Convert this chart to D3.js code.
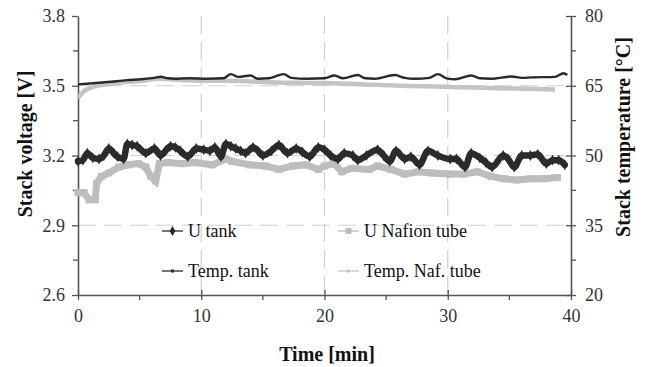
<!DOCTYPE html>
<html>
<head>
<meta charset="utf-8">
<script src="https://cdn.jsdelivr.net/npm/d3@7"></script>
<style>
  html, body { margin: 0; padding: 0; background: #fff; }
  svg { display: block; }
  text { font-family: "Liberation Serif", "Times New Roman", serif; }
</style>
</head>
<body>
<svg id="chart" width="649" height="367"></svg>
<script>
// Stack voltage (V) and stack temperature (°C) over time (min)
const uTankTime = [0, 0.4, 0.76, 1.2, 1.7, 2.1, 2.5, 2.9, 3.2, 3.7, 4.0, 4.4, 4.8, 5.5, 6.2, 6.7, 7.1, 7.5, 7.9, 8.3, 8.9, 9.6,
  10.2, 10.7, 11.1, 11.6, 12.0, 12.4, 12.8, 13.2, 13.6, 14.2, 14.6, 15.0, 15.7, 16.3, 16.6, 17.0, 17.7, 18.2, 18.8, 19.5,
  20.0, 20.5, 21.1, 21.6, 22.3, 22.7, 23.4, 24.3, 24.8, 25.3, 25.8, 26.5, 27.0, 27.7, 28.4, 29.2,
  30.2, 30.7, 31.4, 31.9, 32.6, 33.1, 33.6, 34.5, 34.9, 35.4, 36.0, 36.7, 37.3, 38.0, 38.5, 39.0, 39.5];
const uTankVolt = [3.175, 3.18, 3.21, 3.19, 3.185, 3.2, 3.23, 3.21, 3.195, 3.185, 3.25, 3.245, 3.24, 3.21, 3.23, 3.20, 3.22, 3.24, 3.235, 3.22, 3.195, 3.23,
  3.225, 3.22, 3.235, 3.195, 3.25, 3.24, 3.23, 3.22, 3.21, 3.235, 3.22, 3.20, 3.22, 3.245, 3.23, 3.21, 3.23, 3.215, 3.195, 3.235,
  3.225, 3.20, 3.185, 3.21, 3.20, 3.18, 3.20, 3.225, 3.20, 3.175, 3.22, 3.185, 3.195, 3.16, 3.22, 3.20,
  3.185, 3.185, 3.15, 3.21, 3.19, 3.17, 3.15, 3.20, 3.185, 3.15, 3.20, 3.20, 3.205, 3.165, 3.18, 3.18, 3.16];

const uNafTime = [0, 0.5, 0.9, 1.4, 1.5, 1.9, 2.5, 3.3, 4.1, 4.9, 5.5, 5.9, 6.3, 6.6, 7.3, 8.4, 9.5,
  10.9, 12.0, 12.5, 13.9, 15.2, 16.3, 17.4, 18.5, 19.5, 20.0, 20.8, 21.4, 22.2, 23.6, 24.3, 25.4, 26.5, 27.6, 28.7,
  30.1, 31.3, 32.4, 33.5, 34.5, 35.6, 36.7, 37.8, 38.9];
const uNafVolt = [3.04, 3.04, 3.01, 3.01, 3.08, 3.11, 3.125, 3.15, 3.16, 3.165, 3.15, 3.11, 3.09, 3.165, 3.17, 3.165, 3.17,
  3.16, 3.185, 3.175, 3.16, 3.155, 3.14, 3.155, 3.16, 3.14, 3.155, 3.165, 3.13, 3.145, 3.14, 3.155, 3.14, 3.12, 3.13, 3.125,
  3.12, 3.12, 3.13, 3.11, 3.10, 3.095, 3.10, 3.10, 3.105];

const tTankTime = [0, 1, 2.4, 4, 5.1, 6.2, 6.7, 7.3, 7.8, 9, 10.5, 11.8, 12.4, 13, 14, 14.6, 15.5, 16.7, 17.3, 18.6,
  20, 20.8, 21.5, 22.7, 23.3, 24.1, 25.7, 26.5, 27.3, 28.5, 29.2, 29.9, 30.6, 31.9, 32.6, 33.5, 35.2, 36.0, 36.8, 38.7, 39.4, 39.7];
const tTankTemp = [65.3, 65.5, 65.8, 66.2, 66.4, 66.7, 66.95, 66.6, 66.5, 66.6, 66.5, 66.6, 67.5, 66.9, 67.2, 66.5, 66.6, 67.5, 66.7, 66.5,
  66.6, 67.2, 66.6, 67.3, 66.6, 66.5, 67.3, 66.7, 66.5, 66.7, 67.5, 66.6, 66.4, 67.2, 66.6, 66.5, 67.0, 66.7, 66.8, 66.9, 67.7, 67.3];

const tNafTime = [0, 0.2, 0.5, 0.9, 1.3, 2.4, 3.5, 5.1, 6.5, 7.8, 10, 13.2, 16.0, 18.5, 21.4, 24, 26.8, 29.5, 32.2, 35.5, 38.7];
const tNafTemp = [62.4, 63.0, 63.9, 64.4, 64.8, 65.3, 65.7, 66.0, 66.5, 66.3, 66.1, 66.0, 65.7, 65.6, 65.5, 65.2, 64.95, 64.8, 64.6, 64.4, 64.2];

const xTicks = [0, 10, 20, 30, 40];
const voltTicks = [2.6, 2.9, 3.2, 3.5, 3.8];
const tempTicks = [20, 35, 50, 65, 80];
const legendLabels = ["U tank", "U Nafion tube", "Temp. tank", "Temp. Naf. tube"];

const svg = d3.select("#chart");
const pL = 78, pR = 571, pT = 16, pB = 295;
const axisColor = "#555";
const serif = "'Liberation Serif', 'Times New Roman', serif";

const x = d3.scaleLinear().domain([0, 40]).range([pL, pR]);
const yV = d3.scaleLinear().domain([2.6, 3.8]).range([pB, pT]);
const yT = d3.scaleLinear().domain([20, 80]).range([pB, pT]);

// dashed grid
const grid = svg.append("g").attr("stroke", "#cfcfcf").attr("stroke-width", 1.2).attr("stroke-dasharray", "18,8");
grid.selectAll("line.v").data(xTicks.slice(1, -1)).join("line")
  .attr("x1", d => x(d)).attr("x2", d => x(d)).attr("y1", pT).attr("y2", pB);
grid.selectAll("line.h").data(voltTicks.slice(1, -1)).join("line")
  .attr("x1", pL).attr("x2", pR).attr("y1", d => yV(d)).attr("y2", d => yV(d));

// axes
function styleAxis(g) {
  g.attr("font-family", serif).attr("font-size", 18);
  g.selectAll(".domain").attr("stroke", axisColor).attr("stroke-width", 1.6);
  g.selectAll(".tick line").attr("stroke", axisColor).attr("stroke-width", 1.3);
  g.selectAll(".tick text").attr("fill", "#333");
}
function minorTicks(g, values, scale, orient, len) {
  g.selectAll(null).data(values).join("line")
    .attr("stroke", axisColor).attr("stroke-width", 1.3)
    .each(function (d) {
      const s = d3.select(this);
      if (orient === "left") s.attr("x1", pL).attr("x2", pL - len).attr("y1", scale(d)).attr("y2", scale(d));
      if (orient === "right") s.attr("x1", pR).attr("x2", pR + len).attr("y1", scale(d)).attr("y2", scale(d));
      if (orient === "bottom") s.attr("y1", pB).attr("y2", pB + len).attr("x1", scale(d)).attr("x2", scale(d));
    });
}

const gx = svg.append("g").attr("transform", `translate(0,${pB})`)
  .call(d3.axisBottom(x).tickValues(xTicks).tickSizeInner(5).tickSizeOuter(0).tickPadding(9));
gx.selectAll(".tick line").attr("y1", -5);
styleAxis(gx);

const gl = svg.append("g").attr("transform", `translate(${pL},0)`)
  .call(d3.axisLeft(yV).tickValues(voltTicks).tickFormat(d3.format(".1f")).tickSizeInner(6).tickSizeOuter(0).tickPadding(7));
gl.selectAll(".tick line").attr("x1", 0);
styleAxis(gl);

const gr = svg.append("g").attr("transform", `translate(${pR},0)`)
  .call(d3.axisRight(yT).tickValues(tempTicks).tickSizeInner(5).tickSizeOuter(0).tickPadding(9));
gr.selectAll(".tick line").attr("x1", -5);
styleAxis(gr);

const minor = svg.append("g");
minorTicks(minor, [5, 15, 25, 35], x, "bottom", 5);
minorTicks(minor, [2.75, 3.05, 3.35, 3.65], yV, "left", 5);
minorTicks(minor, [27.5, 42.5, 57.5, 72.5], yT, "right", 5);

// axis titles
function title(sel, txt) {
  return sel.attr("text-anchor", "middle").attr("font-family", serif)
    .attr("font-size", 20).attr("font-weight", "bold").attr("fill", "#111").text(txt);
}
title(svg.append("text").attr("transform", "translate(25,144) rotate(-90)").attr("dominant-baseline", "central"), "Stack voltage [V]");
title(svg.append("text").attr("transform", "translate(623,137) rotate(-90)").attr("dominant-baseline", "central"), "Stack temperature [°C]");
title(svg.append("text").attr("x", 327).attr("y", 361), "Time [min]");

// series
const plot = svg.append("g");
const zip = (ts, vs) => ts.map((t, i) => [t, vs[i]]);
const lineV = d3.line().x(d => x(d[0])).y(d => yV(d[1]));
const lineT = d3.line().x(d => x(d[0])).y(d => yT(d[1])).curve(d3.curveMonotoneX);

const naf = zip(uNafTime, uNafVolt);
const tank = zip(uTankTime, uTankVolt);
const tTank = zip(tTankTime, tTankTemp);
const tNaf = zip(tNafTime, tNafTemp);

// temperature of Nafion tube run (light thick line)
plot.append("path").datum(tNaf).attr("d", lineT)
  .attr("fill", "none").attr("stroke", "#c4c4c4").attr("stroke-width", 4.5);

// U Nafion tube: grey squares
plot.append("path").datum(naf).attr("d", lineV)
  .attr("fill", "none").attr("stroke", "#bdbdbd").attr("stroke-width", 7).attr("stroke-linejoin", "miter");
plot.selectAll("rect.naf").data(naf).join("rect")
  .attr("x", d => x(d[0]) - 3.5).attr("y", d => yV(d[1]) - 3.5).attr("width", 7).attr("height", 7).attr("fill", "#bdbdbd");

// temperature of tank run (thin dark line)
plot.append("path").datum(tTank).attr("d", lineT)
  .attr("fill", "none").attr("stroke", "#2a2a2a").attr("stroke-width", 2.4);

// U tank: dark diamonds
plot.append("path").datum(tank).attr("d", lineV.curve(d3.curveMonotoneX))
  .attr("fill", "none").attr("stroke", "#2b2b2b").attr("stroke-width", 6.5).attr("stroke-linejoin", "round").attr("stroke-linecap", "round");
const diamond = d3.symbol().type(d3.symbolDiamond).size(34);
plot.selectAll("path.tank").data(tank).join("path")
  .attr("transform", d => `translate(${x(d[0])},${yV(d[1])})`).attr("d", diamond).attr("fill", "#2b2b2b");

// legend
const legend = svg.append("g");
const legendItems = [
  { label: legendLabels[0], x: 162, y: 231, color: "#2b2b2b", mark: "diamond" },
  { label: legendLabels[1], x: 338, y: 231, color: "#bdbdbd", mark: "square" },
  { label: legendLabels[2], x: 162, y: 271, color: "#2b2b2b", mark: "dot" },
  { label: legendLabels[3], x: 338, y: 271, color: "#c4c4c4", mark: "dot" }
];
legendItems.forEach(it => {
  const g = legend.append("g");
  g.append("line").attr("x1", it.x).attr("x2", it.x + 21).attr("y1", it.y).attr("y2", it.y)
    .attr("stroke", it.color).attr("stroke-width", 1.3);
  const cx = it.x + 10.5;
  if (it.mark === "diamond") g.append("path").attr("transform", `translate(${cx},${it.y})`)
    .attr("d", d3.symbol().type(d3.symbolDiamond).size(30)).attr("fill", it.color);
  if (it.mark === "square") g.append("rect").attr("x", cx - 3).attr("y", it.y - 3).attr("width", 6).attr("height", 6).attr("fill", it.color);
  if (it.mark === "dot") g.append("rect").attr("x", cx - 1.5).attr("y", it.y - 1.5).attr("width", 3).attr("height", 3).attr("fill", it.color);
  g.append("text").attr("x", it.x + 26).attr("y", it.y).attr("dominant-baseline", "central")
    .attr("font-family", serif).attr("font-size", 18).attr("fill", "#111").text(it.label);
});
</script>
</body>
</html>
